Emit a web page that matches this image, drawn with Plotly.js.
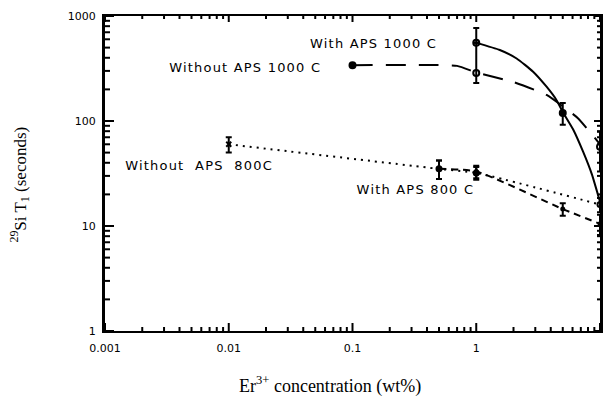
<!DOCTYPE html>
<html>
<head>
<meta charset="utf-8">
<script src="https://cdn.plot.ly/plotly-3.0.1.min.js"></script>
<style>html,body{margin:0;padding:0;background:#fff;}#chart{width:603px;height:398px;}
.annotation-text.lbl{letter-spacing:1.2px;}</style>
</head>
<body>
<div id="chart"></div>
<script>
// ---- data ----
// With APS 1000 C (solid fit)
const withAPS1000_x = [1, 5];
const withAPS1000_y = [555, 119];
const withAPS1000_errPlus = [215, 29];
const withAPS1000_errMinus = [0, 27];
const withAPS1000_fitX = [1, 1.55, 2.12, 2.88, 3.7, 4.47, 5, 6.07, 7.3, 8.6, 10];
const withAPS1000_fitY = [555, 475, 394, 295, 212, 157, 122, 83, 51, 31, 17];

// Without APS 1000 C (long dashed fit)
const withoutAPS1000_x = [0.1, 1, 10];
const withoutAPS1000_y = [340, 286, 57];
const withoutAPS1000_errPlus = [0, 269, 22];
const withoutAPS1000_errMinus = [0, 56, 24];
const withoutAPS1000_fitX = [0.1, 0.7, 1, 2, 3.7, 6.6, 10];
const withoutAPS1000_fitY = [340, 335, 290, 235, 177, 107, 60];

// Without APS 800 C (dotted)
const withoutAPS800_x = [0.01, 0.5, 1, 10];
const withoutAPS800_y = [60, 35, 32, 16];
const withoutAPS800_err = [10, 7, 4.5, 2.5];

// With APS 800 C (short dashed)
const withAPS800_x = [0.5, 1, 5, 10];
const withAPS800_y = [35, 33, 14.5, 10.5];
const withAPS800_err = [7, 4.5, 2, 2.3];

const xDecades = [0.001, 0.01, 0.1, 1, 10];
const xDecadeText = ["0.001", "0.01", "0.1", "1", "10"];
const yDecades = [1, 10, 100, 1000];
const yDecadeText = ["1", "10", "100", "1000"];

const labels = [
  {text: "With APS 1000 C", x: 0.543, y: 0.914},
  {text: "Without APS 1000 C", x: 0.283, y: 0.838},
  {text: "Without\u00a0 APS\u00a0 800C", x: 0.19, y: 0.524},
  {text: "With APS 800 C", x: 0.628, y: 0.448}
];

// minor tick positions: 2..9 within each decade
function minorTicks(lo, hi) {
  const v = [];
  for (let k = lo; k < hi; k++) for (let m = 2; m <= 9; m++) v.push(m * Math.pow(10, k));
  return v;
}
const xMinor = minorTicks(-3, 1), yMinor = minorTicks(0, 3);

// plot area size (px) used to turn tick lengths into paper fractions
const PW = 603 - 105 - 3, PH = 398 - 16 - 67;
function xTickShapes(vals, lenPx, top) {
  const f = lenPx / PH;
  return vals.map(v => ({type: 'line', layer: 'above', xref: 'x', yref: 'paper', x0: v, x1: v,
    y0: top ? 1 : 0, y1: top ? 1 - f : f, line: {color: '#000', width: 2}}));
}
function yTickShapes(vals, lenPx, right) {
  const f = lenPx / PW;
  return vals.map(v => ({type: 'line', layer: 'above', xref: 'paper', yref: 'y', y0: v, y1: v,
    x0: right ? 1 : 0, x1: right ? 1 - f : f, line: {color: '#000', width: 2}}));
}
const tickShapes = [].concat(
  xTickShapes(xDecades, 8, false), xTickShapes(xMinor, 4, false),
  xTickShapes(xDecades, 6, true), xTickShapes(xMinor, 3, true),
  yTickShapes(yDecades, 9, false), yTickShapes(yMinor, 5, false),
  yTickShapes(yDecades, 6, true), yTickShapes(yMinor, 3, true)
);

const traces = [
  {x: withAPS1000_fitX, y: withAPS1000_fitY, mode: 'lines', line: {color: '#000', width: 2, shape: 'spline', smoothing: 0.5}, hoverinfo: 'skip', cliponaxis: false},
  {x: withoutAPS1000_fitX, y: withoutAPS1000_fitY, mode: 'lines', line: {color: '#000', width: 2, dash: '20px,13px', shape: 'spline', smoothing: 0.4}, hoverinfo: 'skip'},
  {x: withoutAPS800_x, y: withoutAPS800_y, mode: 'lines', line: {color: '#000', width: 2, dash: '2px,5px', shape: 'spline', smoothing: 0.6}, hoverinfo: 'skip'},
  {x: withAPS800_x, y: withAPS800_y, mode: 'lines', line: {color: '#000', width: 2, dash: '7px,5px', shape: 'spline', smoothing: 0.6}, hoverinfo: 'skip'},
  {x: withAPS1000_x, y: withAPS1000_y, mode: 'markers', cliponaxis: false,
   marker: {symbol: ['circle-open', 'circle'], size: 6, color: '#000', line: {color: '#000', width: 2}},
   error_y: {type: 'data', symmetric: false, array: withAPS1000_errPlus, arrayminus: withAPS1000_errMinus, color: '#000', thickness: 2, width: 3}},
  {x: withoutAPS1000_x, y: withoutAPS1000_y, mode: 'markers', cliponaxis: false,
   marker: {symbol: ['circle', 'circle-open', 'circle-open'], size: 6, color: '#000', line: {color: '#000', width: 2}},
   error_y: {type: 'data', symmetric: false, array: withoutAPS1000_errPlus, arrayminus: withoutAPS1000_errMinus, color: '#000', thickness: 2, width: 3}},
  {x: withoutAPS800_x, y: withoutAPS800_y, mode: 'markers', cliponaxis: false,
   marker: {symbol: ['x-thin', 'circle', 'circle', 'circle-open'], size: 5, color: '#000', line: {color: '#000', width: 2}},
   error_y: {type: 'data', array: withoutAPS800_err, color: '#000', thickness: 2, width: 3}},
  {x: withAPS800_x, y: withAPS800_y, mode: 'markers', cliponaxis: false,
   marker: {symbol: 'circle', size: 5, color: '#000'},
   error_y: {type: 'data', array: withAPS800_err, color: '#000', thickness: 2, width: 3}}
];

const layout = {
  width: 603, height: 398,
  margin: {l: 105, r: 3, t: 16, b: 67},
  paper_bgcolor: '#fff', plot_bgcolor: '#fff',
  showlegend: false,
  font: {family: 'DejaVu Sans', size: 12, color: '#000'},
  xaxis: {
    type: 'log', range: [-3, 1], tickmode: 'array', tickvals: xDecades, ticktext: xDecadeText,
    showgrid: false, zeroline: false, showline: true, linecolor: '#000', linewidth: 2, mirror: true,
    ticks: '', tickfont: {family: 'DejaVu Sans', size: 11}, ticklabelstandoff: 6
  },
  yaxis: {
    type: 'log', range: [0, 3], tickmode: 'array', tickvals: yDecades, ticktext: yDecadeText,
    showgrid: false, zeroline: false, showline: true, linecolor: '#000', linewidth: 3, mirror: true,
    ticks: '', tickfont: {family: 'DejaVu Sans', size: 11}, ticklabelstandoff: 4
  },
  shapes: tickShapes,
  annotations: labels.map(l => ({
    text: l.text, x: l.x, y: l.y, xref: 'paper', yref: 'paper', showarrow: false,
    xanchor: 'center', yanchor: 'middle', font: {family: 'DejaVu Sans', size: 13, color: '#000'}
  })).concat([
    {text: 'Er<sup>3+</sup> concentration (wt%)', x: 0.4545, y: -0.172, xref: 'paper', yref: 'paper', showarrow: false,
     xanchor: 'center', yanchor: 'middle', font: {family: 'Liberation Serif', size: 18, color: '#000'}},
    {text: '<sup>29</sup>Si T<sub>1</sub> (seconds)', x: -0.1717, y: 0.465, xref: 'paper', yref: 'paper', showarrow: false,
     textangle: -90, xanchor: 'center', yanchor: 'middle', font: {family: 'Liberation Serif', size: 17, color: '#000'}}
  ])
};

Plotly.newPlot('chart', traces, layout, {staticPlot: true, displayModeBar: false}).then(gd => {
  const nodes = gd.querySelectorAll('.annotation-text');
  for (let i = 0; i < labels.length && i < nodes.length; i++) nodes[i].classList.add('lbl');
});
</script>
</body>
</html>
